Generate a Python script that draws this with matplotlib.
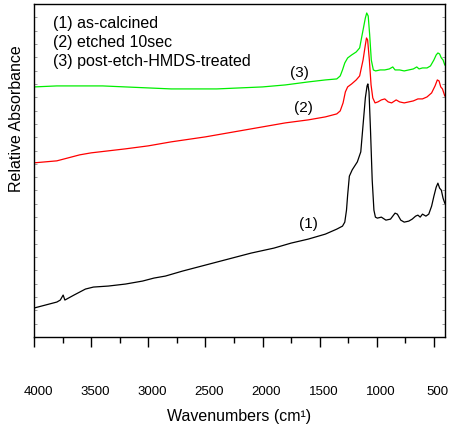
import matplotlib
matplotlib.use("Agg")
import matplotlib.pyplot as plt
import matplotlib.transforms as mtransforms
import numpy as np

plt.rcParams['font.family'] = ['Liberation Sans', 'DejaVu Sans']

# Spectrum (1) as-calcined
wn1 = [4000, 3900, 3800, 3770, 3745, 3730, 3650, 3550, 3480, 3350, 3200, 3050, 2950, 2850,
       2700, 2500, 2300, 2100, 1900, 1750, 1600, 1450, 1350, 1300, 1280, 1265, 1255, 1240,
       1215, 1170, 1140, 1120, 1100, 1085, 1078, 1068, 1055, 1040, 1025, 1012, 995, 960,
       920, 880, 840, 820, 790, 760, 720, 690, 660, 640, 620, 600, 570, 545, 520, 500,
       480, 465, 450, 435, 420, 405]
ab1 = [0.087, 0.096, 0.105, 0.111, 0.126, 0.111, 0.126, 0.144, 0.150, 0.153, 0.159, 0.168,
       0.177, 0.183, 0.198, 0.216, 0.234, 0.252, 0.267, 0.282, 0.294, 0.309, 0.324, 0.333,
       0.345, 0.381, 0.426, 0.483, 0.502, 0.526, 0.556, 0.637, 0.718, 0.754, 0.760, 0.736,
       0.622, 0.471, 0.381, 0.360, 0.357, 0.360, 0.351, 0.354, 0.372, 0.369, 0.351, 0.345,
       0.348, 0.354, 0.363, 0.366, 0.360, 0.369, 0.363, 0.369, 0.393, 0.423, 0.450, 0.462,
       0.447, 0.441, 0.417, 0.402]

# Spectrum (2) etched 10sec
wn2 = [4000, 3900, 3800, 3700, 3600, 3500, 3350, 3200, 3000, 2800, 2500, 2200, 2000, 1800,
       1600, 1450, 1350, 1320, 1295, 1275, 1255, 1220, 1180, 1150, 1120, 1100, 1090, 1080,
       1065, 1050, 1035, 1015, 990, 960, 930, 900, 870, 830, 800, 760, 720, 680, 640, 600,
       560, 520, 490, 470, 455, 440, 425, 405]
ab2 = [0.523, 0.526, 0.529, 0.538, 0.547, 0.553, 0.559, 0.565, 0.574, 0.586, 0.601, 0.619,
       0.631, 0.643, 0.652, 0.661, 0.670, 0.679, 0.703, 0.736, 0.751, 0.760, 0.772, 0.784,
       0.832, 0.877, 0.898, 0.892, 0.832, 0.757, 0.718, 0.703, 0.706, 0.712, 0.715, 0.706,
       0.703, 0.712, 0.706, 0.703, 0.706, 0.709, 0.715, 0.715, 0.721, 0.733, 0.754, 0.772,
       0.769, 0.751, 0.745, 0.724]

# Spectrum (3) post-etch-HMDS-treated
wn3 = [4000, 3800, 3600, 3400, 3200, 3000, 2800, 2600, 2400, 2200, 2000, 1800, 1600, 1450,
       1350, 1320, 1300, 1280, 1255, 1220, 1180, 1150, 1120, 1100, 1088, 1075, 1062, 1048,
       1030, 1010, 970, 930, 890, 860, 840, 800, 760, 720, 680, 650, 630, 600, 560, 530,
       500, 480, 465, 450, 435, 420, 405]
ab3 = [0.751, 0.754, 0.754, 0.754, 0.751, 0.748, 0.745, 0.745, 0.745, 0.748, 0.751, 0.757,
       0.766, 0.772, 0.775, 0.784, 0.802, 0.823, 0.838, 0.847, 0.856, 0.868, 0.922, 0.958,
       0.973, 0.964, 0.907, 0.832, 0.802, 0.799, 0.802, 0.802, 0.805, 0.811, 0.802, 0.802,
       0.799, 0.802, 0.805, 0.811, 0.805, 0.808, 0.808, 0.814, 0.832, 0.847, 0.853, 0.850,
       0.838, 0.832, 0.817]

legend_lines = ["(1) as-calcined", "(2) etched 10sec", "(3) post-etch-HMDS-treated"]
curve_labels = ["(1)", "(2)", "(3)"]
label_pos = [(1597, 0.339), (1640, 0.688), (1676, 0.793)]
x_ticks = [4000, 3500, 3000, 2500, 2000, 1500, 1000, 500]

fig = plt.figure(figsize=(4.53, 4.26), dpi=100)
ax = fig.add_axes([0.0751, 0.2089, 0.9072, 0.7817])

ax.plot(wn1, ab1, color='black', lw=0.9)
ax.plot(wn2, ab2, color='#ff0000', lw=0.9)
ax.plot(wn3, ab3, color='#00ee00', lw=0.9)

ax.set_xlim(4000, 403)
ax.set_ylim(0, 1)

ax.set_xticks(x_ticks)
ax.set_xticklabels([str(t) for t in x_ticks])
ax.set_xticks(np.arange(4000, 399, -250), minor=True)
ax.tick_params(axis='x', which='major', direction='out', length=7, width=1,
               pad=28, labelsize=9.5, top=False)
ax.tick_params(axis='x', which='minor', direction='out', length=4, width=1, top=False)
offset = mtransforms.ScaledTranslation(4 / 100, 0, fig.dpi_scale_trans)
for lab in ax.get_xticklabels():
    lab.set_transform(lab.get_transform() + offset)

ax.set_yticks(np.arange(0, 1.001, 0.04))
ax.tick_params(axis='y', which='major', direction='in', length=2, width=0.6,
               color='0.55', left=True, right=True, labelleft=False)

for s in ax.spines.values():
    s.set_linewidth(1)

ax.set_xlabel("Wavenumbers (cm¹)", fontsize=11.5, labelpad=8)
ax.set_ylabel("Relative Absorbance", fontsize=11.5)
ax.yaxis.set_label_coords(-0.025, 0.655)

for i, t in enumerate(legend_lines):
    ax.text(0.047, 0.94 - i * 0.057, t, transform=ax.transAxes, fontsize=11.5,
            va='center', ha='left')

for t, (x, y) in zip(curve_labels, label_pos):
    ax.text(x, y, t, fontsize=11, ha='center', va='center')

fig.savefig("out.png", dpi=100)
